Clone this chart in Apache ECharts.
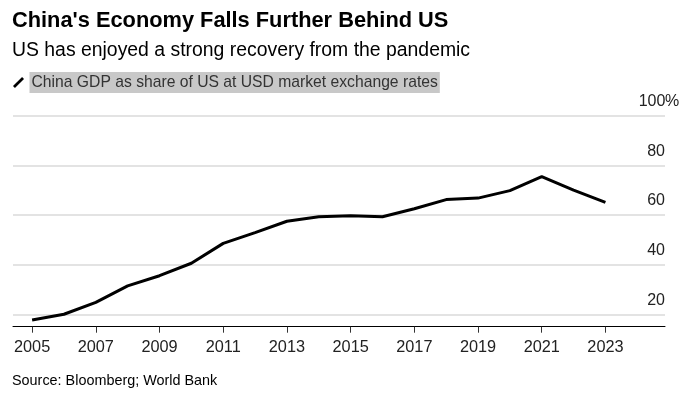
<!DOCTYPE html>
<html>
<head>
<meta charset="utf-8">
<script src="https://cdn.jsdelivr.net/npm/echarts@6/dist/echarts.min.js"></script>
<style>
html,body{margin:0;padding:0;background:#fff;}
#chart{width:685px;height:395px;}
</style>
</head>
<body>
<div id="chart"></div>
<script>
var years = [2005,2006,2007,2008,2009,2010,2011,2012,2013,2014,2015,2016,2017,2018,2019,2020,2021,2022,2023];
var shareOfUS = [17.8,20.1,24.9,31.5,35.6,40.6,48.6,52.9,57.5,59.3,59.7,59.3,62.5,66.2,66.8,69.8,75.4,70.0,65.1];
var xTickYears = [2005,2007,2009,2011,2013,2015,2017,2019,2021,2023];
var yTicks = [20,40,60,80,100];

var titleText = "China's Economy Falls Further Behind US";
var subtitleText = "US has enjoyed a strong recovery from the pandemic";
var seriesName = "China GDP as share of US at USD market exchange rates";
var sourceText = "Source: Bloomberg; World Bank";

var FONT = "'Liberation Sans', Arial, sans-serif";
var chart = echarts.init(document.getElementById('chart'));
chart.setOption({
  animation: false,
  backgroundColor: '#fff',
  title: [
    {text: titleText, left: 12, top: 10, padding: 0, textStyle: {fontFamily: FONT, fontSize: 21.8, fontWeight: 'bold', color: '#000'}},
    {text: subtitleText, left: 12, top: 41, padding: 0, textStyle: {fontFamily: FONT, fontSize: 19.4, fontWeight: 'normal', color: '#000'}},
    {text: sourceText, left: 12, top: 374, padding: 0, textStyle: {fontFamily: FONT, fontSize: 14.4, fontWeight: 'normal', color: '#000'}}
  ],
  legend: {
    left: 8, top: 67,
    itemWidth: 12, itemHeight: 11,
    icon: 'path://M0,9.5 L9.5,0 L11.5,2 L2,11.5 Z',
    textStyle: {fontFamily: FONT, fontSize: 15.7, color: '#333', backgroundColor: '#c8c8c8', padding: [3, 2, 2, 2]},
    data: [{name: seriesName, itemStyle: {color: '#000'}}]
  },
  grid: {left: 13, right: 20, top: 115.5, bottom: 68.3, containLabel: false},
  xAxis: {
    type: 'value', min: 2004.4, max: 2024.87,
    axisLine: {show: true, lineStyle: {color: '#000', width: 1}},
    axisTick: {show: true, customValues: xTickYears, length: 6, lineStyle: {color: '#333'}},
    axisLabel: {customValues: xTickYears, formatter: function (v) { return String(v); }, fontFamily: FONT, fontSize: 16.3, color: '#222', margin: 13},
    splitLine: {show: false}
  },
  yAxis: {
    type: 'value', position: 'right', min: 15.1, max: 100,
    axisLine: {show: false},
    axisTick: {show: false, customValues: yTicks},
    splitLine: {show: true, customValues: yTicks, lineStyle: {color: '#e3e3e3', width: 2}},
    axisLabel: {
      customValues: yTicks, inside: true, margin: 26, align: 'left', verticalAlign: 'bottom',
      formatter: function (v) { return v === 100 ? '{n|100}{p|%}' : '{n|' + v + '}'; },
      rich: {
        n: {width: 26, align: 'right', fontFamily: FONT, fontSize: 16, color: '#222', padding: [0, 0, 6, 0]},
        p: {fontFamily: FONT, fontSize: 16, color: '#222', padding: [0, 0, 6, 0]}
      }
    }
  },
  series: [{
    name: seriesName, type: 'line', symbol: 'none', silent: true,
    lineStyle: {color: '#000', width: 3},
    data: years.map(function (y, i) { return [y, shareOfUS[i]]; })
  }]
});
</script>
</body>
</html>
